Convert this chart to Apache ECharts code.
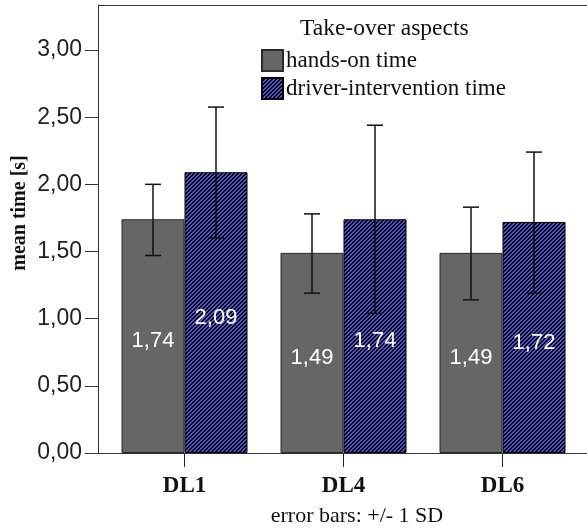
<!DOCTYPE html>
<html>
<head>
<meta charset="utf-8">
<script src="https://cdn.jsdelivr.net/npm/echarts@6/dist/echarts.min.js"></script>
<style>
html,body{margin:0;padding:0;background:#fff;}
#chart{width:587px;height:528px;}
</style>
</head>
<body>
<div id="chart"></div>
<script>
var categories = ['DL1', 'DL4', 'DL6'];
var seriesNames = ['hands-on time', 'driver-intervention time'];
var handsOn = [1.74, 1.49, 1.49];
var driverIntervention = [2.09, 1.74, 1.72];
var handsOnSD = [[1.47, 2.00], [1.19, 1.78], [1.14, 1.83]];
var driverSD = [[1.60, 2.575], [1.04, 2.44], [1.19, 2.24]];
var yTicks = [0, 0.5, 1, 1.5, 2, 2.5, 3];

function fmt(v) { return v.toFixed(2).replace('.', ','); }

var tile = document.createElement('canvas');
tile.width = 4; tile.height = 4;
var ctx = tile.getContext('2d');
ctx.fillStyle = '#000000';
ctx.fillRect(0, 0, 4, 4);
ctx.fillStyle = '#5252d8';
for (var x = 0; x < 4; x++) {
  for (var y = 0; y < 4; y++) {
    var m = (x + y) % 4;
    if (m === 0 || m === 1) ctx.fillRect(x, y, 1, 1);
  }
}

var chart = echarts.init(document.getElementById('chart'), null, {renderer: 'canvas'});
var BW = 63;

function errSeries(name, ranges, sign) {
  return {
    type: 'custom',
    name: name + ' SD',
    z: 10,
    silent: true,
    data: ranges.map(function (r, i) { return [i, r[0], r[1]]; }),
    renderItem: function (params, api) {
      var lo = api.coord([api.value(0), api.value(1)]);
      var hi = api.coord([api.value(0), api.value(2)]);
      var cx = lo[0] + sign * BW / 2;
      var cap = 8;
      var st = {stroke: '#111', lineWidth: 1.5};
      return {
        type: 'group',
        children: [
          {type: 'line', shape: {x1: cx, y1: lo[1], x2: cx, y2: hi[1]}, style: st},
          {type: 'line', shape: {x1: cx - cap, y1: lo[1], x2: cx + cap, y2: lo[1]}, style: st},
          {type: 'line', shape: {x1: cx - cap, y1: hi[1], x2: cx + cap, y2: hi[1]}, style: st}
        ]
      };
    }
  };
}

var labelStyle = {
  show: true,
  position: 'inside',
  offset: [0, 5],
  color: '#ffffff',
  fontFamily: 'Liberation Sans',
  fontSize: 22,
  formatter: function (p) { return fmt(p.value); }
};

chart.setOption({
  animation: false,
  backgroundColor: '#ffffff',
  grid: {left: 105, right: 5, top: 5, bottom: 75, containLabel: false, outerBoundsMode: 'none'},
  title: {
    text: 'Take-over aspects',
    left: 300, top: 17,
    padding: 0,
    textStyle: {fontFamily: 'Liberation Serif', fontSize: 23.5, fontWeight: 'normal', color: '#111'}
  },
  legend: {
    data: seriesNames,
    orient: 'vertical',
    left: 261, top: 49,
    padding: 0,
    icon: 'rect',
    itemWidth: 21, itemHeight: 21, itemGap: 5,
    selectedMode: false,
    textStyle: {fontFamily: 'Liberation Serif', fontSize: 23, color: '#111', padding: [0, 0, 0, -2]}
  },
  xAxis: {
    type: 'category',
    data: categories,
    axisLine: {show: false},
    axisTick: {show: true, alignWithLabel: true, length: 14, lineStyle: {color: '#222', width: 1}},
    axisLabel: {margin: 22, fontFamily: 'Liberation Serif', fontWeight: 'bold', fontSize: 23, color: '#111'}
  },
  yAxis: {
    type: 'value',
    min: 0, max: 3.335,
    offset: 7,
    splitLine: {show: false},
    axisLine: {show: true, lineStyle: {color: '#333', width: 1}},
    axisTick: {show: true, length: 13, customValues: yTicks, lineStyle: {color: '#333', width: 1}},
    axisLabel: {customValues: yTicks, margin: 16, fontFamily: 'Liberation Sans', fontSize: 23, color: '#222',
      formatter: function (v) { return fmt(v); }}
  },
  graphic: [
    {type: 'line', shape: {x1: 98, y1: 5.5, x2: 587, y2: 5.5}, style: {stroke: '#333', lineWidth: 1}, z: 100},
    {type: 'line', shape: {x1: 98, y1: 453.5, x2: 587, y2: 453.5}, style: {stroke: '#333', lineWidth: 1.2}, z: 100},
    {type: 'text', x: 20, y: 213, rotation: Math.PI / 2,
      style: {text: 'mean time [s]', align: 'center', verticalAlign: 'middle',
        font: 'bold 20px "Liberation Serif"', fill: '#111'}},
    {type: 'text', x: 357, y: 516,
      style: {text: 'error bars: +/- 1 SD', align: 'center', verticalAlign: 'middle',
        font: '22px "Liberation Serif"', fill: '#111'}}
  ],
  series: [
    {
      name: seriesNames[0], type: 'bar', data: handsOn,
      barWidth: BW, barGap: '0%',
      itemStyle: {color: '#666666', borderColor: '#2a2a2a', borderWidth: 1},
      label: labelStyle
    },
    {
      name: seriesNames[1], type: 'bar', data: driverIntervention,
      barWidth: BW, barGap: '0%',
      itemStyle: {color: {image: tile, repeat: 'repeat'}, borderColor: '#000', borderWidth: 1},
      label: labelStyle
    },
    errSeries(seriesNames[0], handsOnSD, -1),
    errSeries(seriesNames[1], driverSD, 1)
  ]
});
</script>
</body>
</html>
